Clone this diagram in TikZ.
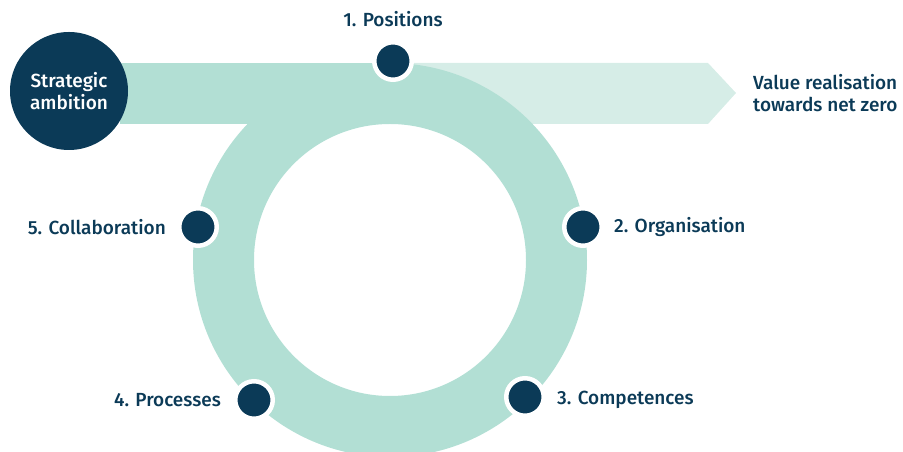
\documentclass[tikz,border=0pt]{standalone}
\usepackage{fontspec}
\setmainfont{Fira Sans}[UprightFont={* Medium}]
\usetikzlibrary{positioning}
\definecolor{navy}{HTML}{0B3A57}
\definecolor{mint}{HTML}{B2DFD4}
\definecolor{palemint}{HTML}{D6EDE7}
\tikzset{
  dot/.style={circle, fill=navy, draw=white, line width=4.5pt, minimum size=37.5pt, inner sep=0pt},
  lab/.style={text=navy, font=\fontsize{19}{22}\selectfont, inner sep=0pt},
}
\begin{document}
\begin{tikzpicture}[x=1pt,y=1pt]
  \useasboundingbox (0,0) rectangle (903,452);
  \clip (0,0) rectangle (903,452);
  % band and ring
  \fill[palemint] (390,389) -- (708,389) -- (736,359) -- (708,328) -- (390,328) -- cycle;
  \fill[mint] (120,389) rectangle (390,328);
  \fill[mint, even odd rule] (390,192) circle (197) (390,192) circle (136);
  \coordinate (tip) at (736,359);
  % start
  \node[circle, fill=navy, minimum size=118pt, inner sep=0pt, align=center,
        text=white, font=\fontsize{19}{22}\selectfont] (ambition) at (69,361) {Strategic\\ambition};
  % steps
  \draw
    (393,391) node[dot] (d1){}
    (583,225) node[dot] (d2){}
    (525,55) node[dot] (d3){}
    (254,52) node[dot] (d4){}
    (198,225) node[dot] (d5){};
  \node[lab, above=13pt of d1] (l1) {1. Positions};
  \node[lab, right=10pt of d2] (l2) {2. Organisation};
  \node[lab, right=11pt of d3, yshift=-3pt] (l3) {3. Competences};
  \node[lab, left=12pt of d4] (l4) {4. Processes};
  \node[lab, left=11pt of d5] (l5) {5. Collaboration};
  \node[lab, right=17pt of tip, align=left] (goal) {Value realisation\\towards net zero};
\end{tikzpicture}
\end{document}
